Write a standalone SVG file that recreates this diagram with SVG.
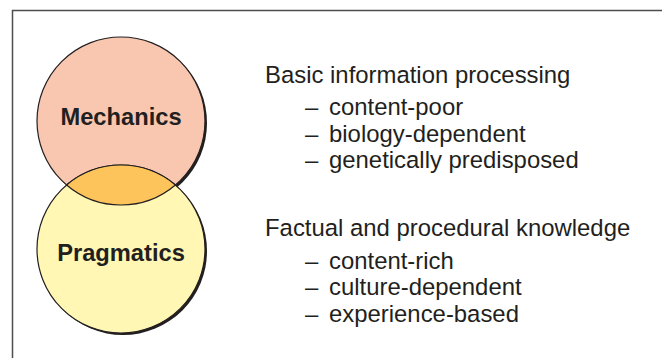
<svg xmlns="http://www.w3.org/2000/svg" width="662" height="358" viewBox="0 0 662 358">
<style>
.frame{fill:none;stroke:#4d4d4d;stroke-width:1.5}
.shadow{fill:#231f20}
.circ{stroke:#231f20;stroke-width:1.2}
.label{font-family:"Liberation Sans",Arial,sans-serif;font-weight:bold;font-size:23.7px;fill:#231f20;text-anchor:middle}
.txt{font-family:"Liberation Sans",Arial,sans-serif;font-size:23.9px;fill:#231f20}
</style>
<rect width="662" height="358" fill="#ffffff"/>
<path class="frame" d="M12.5 358 V10.5 H662"/>
<g id="mechanics">
<circle class="shadow" cx="123" cy="123" r="84"/>
<circle class="circ" cx="121" cy="121" r="84" fill="#f9c7b0"/>
<text class="label" x="121" y="124.5">Mechanics</text>
</g>
<g id="pragmatics">
<circle class="shadow" cx="123" cy="251" r="84"/>
<circle class="circ" cx="121" cy="249" r="84" fill="#fff7b3"/>
<text class="label" x="121" y="261">Pragmatics</text>
</g>
<g id="overlap">
<path class="circ" fill="#fdc45c" d="M66.6 185 A84 84 0 0 1 175.4 185 A84 84 0 0 1 66.6 185 Z"/>
</g>
<g id="connectors"></g>
<g id="basic">
<text class="txt" x="265" y="83">Basic information processing</text>
<text class="txt" x="305" y="115">–</text><text class="txt" x="329" y="115">content-poor</text>
<text class="txt" x="305" y="141.5">–</text><text class="txt" x="329" y="141.5">biology-dependent</text>
<text class="txt" x="305" y="168">–</text><text class="txt" x="329" y="168">genetically predisposed</text>
</g>
<g id="factual">
<text class="txt" x="265" y="235.5">Factual and procedural knowledge</text>
<text class="txt" x="305" y="268.5">–</text><text class="txt" x="329" y="268.5">content-rich</text>
<text class="txt" x="305" y="295">–</text><text class="txt" x="329" y="295">culture-dependent</text>
<text class="txt" x="305" y="321.5">–</text><text class="txt" x="329" y="321.5">experience-based</text>
</g>
</svg>
